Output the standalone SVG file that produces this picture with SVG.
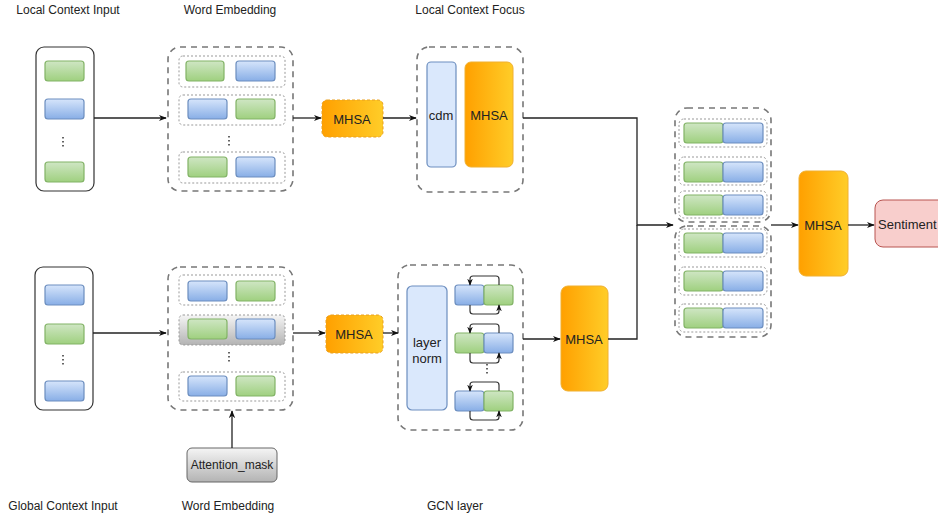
<svg xmlns="http://www.w3.org/2000/svg" width="938" height="518" viewBox="0 0 938 518">
<defs>
<linearGradient id="gG" x1="0" y1="0" x2="0" y2="1"><stop offset="0" stop-color="#cfe6c4"/><stop offset="1" stop-color="#9fd07f"/></linearGradient>
<linearGradient id="gB" x1="0" y1="0" x2="0" y2="1"><stop offset="0" stop-color="#d6e5fb"/><stop offset="1" stop-color="#88aee6"/></linearGradient>
<linearGradient id="gO" x1="0" y1="0" x2="1" y2="0"><stop offset="0" stop-color="#ffa000"/><stop offset="1" stop-color="#ffcd28"/></linearGradient>
<linearGradient id="gGray" x1="0" y1="0" x2="0" y2="1"><stop offset="0" stop-color="#f5f5f5"/><stop offset="1" stop-color="#b3b3b3"/></linearGradient>
<marker id="ah" viewBox="0 0 10 10" refX="9" refY="5" markerWidth="8" markerHeight="8" orient="auto" markerUnits="userSpaceOnUse"><path d="M0,1 L10,5 L0,9 L3,5 Z" fill="#111"/></marker>
<marker id="ahs" viewBox="0 0 10 10" refX="9" refY="5" markerWidth="7" markerHeight="7" orient="auto" markerUnits="userSpaceOnUse"><path d="M0,1 L10,5 L0,9 L3,5 Z" fill="#111"/></marker>
</defs>
<style>
.t{font-family:"Liberation Sans",Arial,sans-serif;font-size:12px;fill:#222;text-anchor:middle}
.l{font-family:"Liberation Sans",Arial,sans-serif;font-size:13px;fill:#222;text-anchor:middle;dominant-baseline:central}
.in{fill:#fff;stroke:#333;stroke-width:1.2}
.grp{fill:none;stroke:#777;stroke-width:1.6;stroke-dasharray:6 5}
.row{fill:none;stroke:#999;stroke-width:1;stroke-dasharray:2 2}
.g{fill:url(#gG);stroke:#82b366;stroke-width:1.2}
.b{fill:url(#gB);stroke:#6c8ebf;stroke-width:1.2}
.o{fill:url(#gO);stroke:#f0b030;stroke-width:1}
.od{fill:url(#gO);stroke:#e8a020;stroke-width:1;stroke-dasharray:3 2}
.lb{fill:#dae8fc;stroke:#6c8ebf;stroke-width:1.2}
.dot{fill:none;stroke:#333;stroke-width:1.5;stroke-dasharray:1.5 2.5}
.c{fill:none;stroke:#222;stroke-width:1.3}
.lp{fill:none;stroke:#333;stroke-width:1.2}
</style>

<g id="titles">
<text class="t" x="68" y="14">Local Context Input</text>
<text class="t" x="230" y="14">Word Embedding</text>
<text class="t" x="470" y="14">Local Context Focus</text>
<text class="t" x="63" y="510">Global Context Input</text>
<text class="t" x="228" y="510">Word Embedding</text>
<text class="t" x="455" y="510">GCN layer</text>
</g>

<g id="local-input">
<rect class="in" x="36" y="47" width="58" height="144" rx="8"/>
<rect class="g" x="45" y="61" width="39" height="20" rx="3"/>
<rect class="b" x="45" y="99" width="39" height="20" rx="3"/>
<line class="dot" x1="63" y1="137" x2="63" y2="148"/>
<rect class="g" x="45" y="162" width="39" height="20" rx="3"/>
</g>

<g id="local-embedding">
<rect class="grp" x="168" y="47" width="125" height="144" rx="12"/>
<rect class="row" x="179" y="56" width="106" height="31" rx="4"/>
<rect class="g" x="186" y="61" width="38" height="20" rx="3"/>
<rect class="b" x="236" y="61" width="39" height="20" rx="3"/>
<rect class="row" x="179" y="95" width="106" height="30" rx="4"/>
<rect class="b" x="188" y="99" width="39" height="20" rx="3"/>
<rect class="g" x="236" y="99" width="39" height="20" rx="3"/>
<line class="dot" x1="229" y1="136" x2="229" y2="146"/>
<rect class="row" x="179" y="152" width="106" height="31" rx="4"/>
<rect class="g" x="188" y="157" width="39" height="20" rx="3"/>
<rect class="b" x="236" y="157" width="39" height="20" rx="3"/>
</g>

<g id="mhsa-top-small">
<rect class="od" x="322" y="100" width="61" height="37" rx="5"/>
<text class="l" x="352" y="119">MHSA</text>
</g>

<g id="local-context-focus">
<rect class="grp" x="417" y="47" width="106" height="145" rx="12"/>
<rect class="lb" x="427" y="62" width="29" height="105" rx="4"/>
<text class="l" x="441" y="115">cdm</text>
<rect class="o" x="465" y="62" width="48" height="105" rx="6"/>
<text class="l" x="489" y="115">MHSA</text>
</g>

<g id="global-input">
<rect class="in" x="35" y="267" width="58" height="143" rx="8"/>
<rect class="b" x="45" y="285" width="39" height="20" rx="3"/>
<rect class="g" x="45" y="324" width="39" height="20" rx="3"/>
<line class="dot" x1="63" y1="355" x2="63" y2="366"/>
<rect class="b" x="45" y="381" width="39" height="20" rx="3"/>
</g>

<g id="global-embedding">
<rect class="grp" x="168" y="267" width="125" height="143" rx="12"/>
<rect class="row" x="179" y="275" width="106" height="30" rx="4"/>
<rect class="b" x="188" y="281" width="39" height="20" rx="3"/>
<rect class="g" x="236" y="281" width="39" height="20" rx="3"/>
<rect x="179" y="315" width="106" height="30" rx="4" fill="url(#gGray)" stroke="#999" stroke-width="1" stroke-dasharray="2 2"/>
<rect class="g" x="188" y="319" width="39" height="20" rx="3"/>
<rect class="b" x="236" y="319" width="39" height="20" rx="3"/>
<line class="dot" x1="229" y1="352" x2="229" y2="364"/>
<rect class="row" x="179" y="372" width="106" height="29" rx="4"/>
<rect class="b" x="188" y="376" width="39" height="20" rx="3"/>
<rect class="g" x="236" y="376" width="39" height="20" rx="3"/>
</g>

<g id="attention-mask">
<rect x="187" y="448" width="90" height="34" rx="5" fill="url(#gGray)" stroke="#666" stroke-width="1"/>
<text class="l" x="232" y="465" style="font-size:12px">Attention_mask</text>
</g>

<g id="mhsa-bottom-small">
<rect class="od" x="326" y="315" width="57" height="38" rx="5"/>
<text class="l" x="354" y="334">MHSA</text>
</g>

<g id="gcn-layer">
<rect class="grp" x="398" y="265" width="125" height="165" rx="12"/>
<rect class="lb" x="407" y="286" width="40" height="124" rx="5"/>
<text class="l" x="427" y="342">layer</text>
<text class="l" x="427" y="358">norm</text>
<rect class="b" x="455" y="285" width="29" height="20" rx="3"/>
<rect class="g" x="484" y="285" width="29" height="20" rx="3"/>
<path class="lp" d="M499,285 V279 Q499,276 496,276 H473 Q470,276 470,279 V285" marker-end="url(#ahs)"/>
<path class="lp" d="M470,305 V311 Q470,314 473,314 H496 Q499,314 499,311 V305" marker-end="url(#ahs)"/>
<rect class="g" x="455" y="333" width="29" height="20" rx="3"/>
<rect class="b" x="484" y="333" width="29" height="20" rx="3"/>
<path class="lp" d="M499,333 V327 Q499,324 496,324 H473 Q470,324 470,327 V333" marker-end="url(#ahs)"/>
<path class="lp" d="M470,353 V360 Q470,363 473,363 H496 Q499,363 499,360 V353" marker-end="url(#ahs)"/>
<line class="dot" x1="487" y1="364" x2="487" y2="375"/>
<rect class="b" x="455" y="391" width="29" height="20" rx="3"/>
<rect class="g" x="484" y="391" width="29" height="20" rx="3"/>
<path class="lp" d="M499,391 V385 Q499,382 496,382 H473 Q470,382 470,385 V391" marker-end="url(#ahs)"/>
<path class="lp" d="M470,411 V417 Q470,420 473,420 H496 Q499,420 499,417 V411" marker-end="url(#ahs)"/>
</g>

<g id="mhsa-bottom-big">
<rect class="o" x="561" y="286" width="47" height="105" rx="7"/>
<text class="l" x="584" y="339">MHSA</text>
</g>

<g id="concat">
<rect class="grp" x="675" y="108" width="96" height="114" rx="12"/>
<rect class="grp" x="675" y="226" width="96" height="111" rx="12"/>
<rect class="row" x="679" y="119" width="88" height="28" rx="5"/>
<rect class="g" x="684" y="123" width="39" height="20" rx="3"/>
<rect class="b" x="723" y="123" width="40" height="20" rx="3"/>
<rect class="row" x="679" y="157" width="88" height="28" rx="5"/>
<rect class="g" x="684" y="162" width="39" height="20" rx="3"/>
<rect class="b" x="723" y="162" width="40" height="20" rx="3"/>
<rect class="row" x="679" y="191" width="88" height="27" rx="5"/>
<rect class="g" x="684" y="195" width="39" height="20" rx="3"/>
<rect class="b" x="723" y="195" width="40" height="20" rx="3"/>
<rect class="row" x="679" y="229" width="88" height="28" rx="5"/>
<rect class="g" x="684" y="233" width="39" height="20" rx="3"/>
<rect class="b" x="723" y="233" width="40" height="20" rx="3"/>
<rect class="row" x="679" y="267" width="88" height="28" rx="5"/>
<rect class="g" x="684" y="271" width="39" height="20" rx="3"/>
<rect class="b" x="723" y="271" width="40" height="20" rx="3"/>
<rect class="row" x="679" y="304" width="88" height="28" rx="5"/>
<rect class="g" x="684" y="308" width="39" height="20" rx="3"/>
<rect class="b" x="723" y="308" width="40" height="20" rx="3"/>
</g>

<g id="mhsa-final">
<rect class="o" x="799" y="171" width="49" height="105" rx="7"/>
<text class="l" x="823" y="225">MHSA</text>
</g>

<g id="sentiment">
<rect x="875" y="200" width="80" height="47" rx="8" fill="#f8cecc" stroke="#b85450" stroke-width="1"/>
<text class="l" x="878" y="224" style="text-anchor:start">Sentiment</text>
</g>

<g id="connectors">
<line class="c" x1="94" y1="118" x2="166" y2="118" marker-end="url(#ah)"/>
<line class="c" x1="293" y1="118" x2="321" y2="118" marker-end="url(#ah)"/>
<line class="c" x1="383" y1="118" x2="416" y2="118" marker-end="url(#ah)"/>
<polyline class="c" points="523,118 637,118 637,225 673,225" marker-end="url(#ah)"/>
<polyline class="c" points="608,339 637,339 637,225"/>
<line class="c" x1="93" y1="333" x2="166" y2="333" marker-end="url(#ah)"/>
<line class="c" x1="293" y1="333" x2="325" y2="333" marker-end="url(#ah)"/>
<line class="c" x1="383" y1="333" x2="398" y2="333" marker-end="url(#ah)"/>
<line class="c" x1="523" y1="339" x2="560" y2="339" marker-end="url(#ah)"/>
<line class="c" x1="232" y1="448" x2="232" y2="411" marker-end="url(#ah)"/>
<line class="c" x1="771" y1="225" x2="798" y2="225" marker-end="url(#ah)"/>
<line class="c" x1="848" y1="225" x2="874" y2="225" marker-end="url(#ah)"/>
</g>
</svg>
